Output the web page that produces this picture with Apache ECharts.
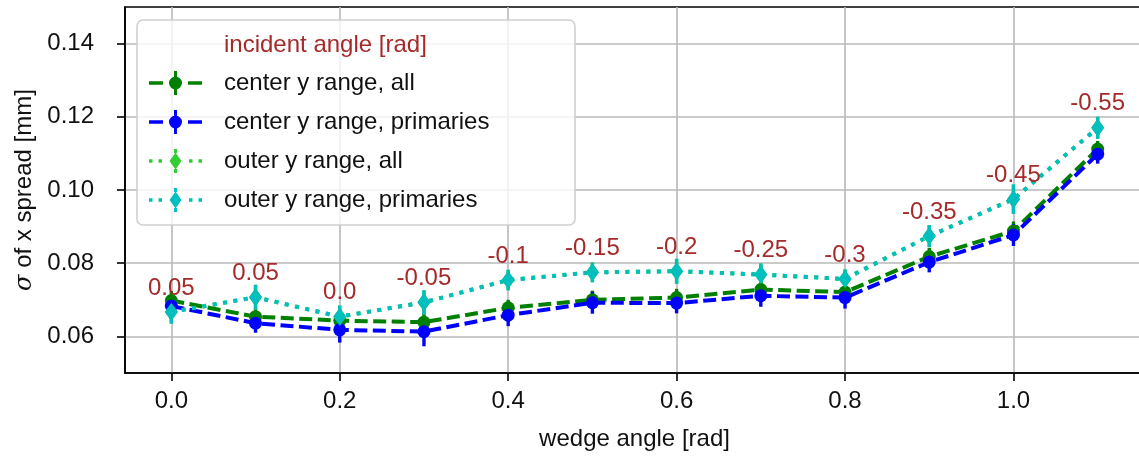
<!DOCTYPE html>
<html>
<head>
<meta charset="utf-8">
<script src="https://cdn.jsdelivr.net/npm/echarts@6/dist/echarts.min.js"></script>
<style>
  html, body { margin: 0; padding: 0; background: #fff; }
  #chart { width: 1139px; height: 459px; }
</style>
</head>
<body>
<div id="chart"></div>
<script>
// wedge angle [rad] on the x axis
var wedgeAngles = [0.0, 0.1, 0.2, 0.3, 0.4, 0.5, 0.6, 0.7, 0.8, 0.9, 1.0, 1.1];
// incident angle [rad] written above each point
var incidentAngles = ['0.05', '0.05', '0.0', '-0.05', '-0.1', '-0.15', '-0.2', '-0.25', '-0.3', '-0.35', '-0.45', '-0.55'];

// sigma of x spread [mm] and its error
var centerAll = [0.0698, 0.0654, 0.0643, 0.0639, 0.0678, 0.0700, 0.0706, 0.0728, 0.0721, 0.0818, 0.0888, 0.1112];
var centerAllErr = [0.0026, 0.0022, 0.0022, 0.0024, 0.0022, 0.0025, 0.0024, 0.0025, 0.0024, 0.0024, 0.0026, 0.0022];
var centerPrim = [0.0683, 0.0636, 0.0618, 0.0613, 0.0658, 0.0692, 0.0691, 0.0711, 0.0706, 0.0803, 0.0877, 0.1098];
var centerPrimErr = [0.0028, 0.0026, 0.0035, 0.0040, 0.0030, 0.0030, 0.0028, 0.0030, 0.0030, 0.0028, 0.0030, 0.0026];
var outerAll = [0.0667, 0.0707, 0.0654, 0.0693, 0.0754, 0.0775, 0.0778, 0.0769, 0.0757, 0.0874, 0.0975, 0.1170];
var outerAllErr = [0.0032, 0.0034, 0.0030, 0.0033, 0.0028, 0.0027, 0.0034, 0.0030, 0.0026, 0.0030, 0.0040, 0.0030];
var outerPrim = [0.0667, 0.0707, 0.0654, 0.0693, 0.0754, 0.0775, 0.0778, 0.0769, 0.0757, 0.0874, 0.0975, 0.1170];
var outerPrimErr = [0.0032, 0.0034, 0.0030, 0.0033, 0.0028, 0.0027, 0.0034, 0.0030, 0.0026, 0.0030, 0.0040, 0.0030];

var xTicks = [0.0, 0.2, 0.4, 0.6, 0.8, 1.0];
var yTicks = [0.06, 0.08, 0.10, 0.12, 0.14];

var FONT = 'Liberation Sans';
var gridColor = '#b8b8b8';

// legend handles: dashes/dots + marker + error bar, in a 53x24 box
var dashIcon = 'path://M0 10.25H14V13.75H0Z M39 10.25H53V13.75H39Z M25 0H28V6H25Z M25 18H28V24H25Z ' +
  'M20 12A6.5 6.5 0 1 1 33 12A6.5 6.5 0 1 1 20 12Z';
var dotIcon = 'path://M0 10.25H3.5V13.75H0Z M9.5 10.25H13V13.75H9.5Z M40 10.25H43.5V13.75H40Z M49.5 10.25H53V13.75H49.5Z ' +
  'M25 0H28V4H25Z M25 20H28V24H25Z M26.5 3.5L32.5 12L26.5 20.5L20.5 12Z';

function errSeries(name, vals, errs, color) {
  return {
    name: name + ' (err)',
    type: 'custom',
    data: wedgeAngles.map(function (x, i) { return [x, vals[i] - errs[i], vals[i] + errs[i]]; }),
    encode: { x: 0, y: [1, 2] },
    itemStyle: { color: color },
    renderItem: function (params, api) {
      var a = api.coord([api.value(0), api.value(1)]);
      var b = api.coord([api.value(0), api.value(2)]);
      return {
        type: 'line',
        shape: { x1: a[0], y1: a[1], x2: b[0], y2: b[1] },
        style: { stroke: color, lineWidth: 3.4 }
      };
    },
    silent: true
  };
}

function lineSeries(name, vals, color, symbol, size, dash) {
  return {
    name: name,
    type: 'line',
    data: wedgeAngles.map(function (x, i) { return [x, vals[i]]; }),
    symbol: symbol,
    symbolSize: size,
    showSymbol: true,
    itemStyle: { color: color },
    lineStyle: { color: color, width: 4, type: dash }
  };
}

var chart = echarts.init(document.getElementById('chart'));

var cyanLine = lineSeries('outer y range, primaries', outerPrim, '#00bfbf', 'diamond', [13, 18], [4, 6.5]);
cyanLine.label = {
  show: true,
  position: 'top',
  distance: 3,
  formatter: function (p) { return incidentAngles[p.dataIndex]; },
  color: '#a52a2a',
  fontSize: 24,
  fontFamily: FONT
};

var option = {
  animation: false,
  textStyle: { fontFamily: FONT },
  grid: {
    left: 125, top: 7, right: -5, bottom: 86,
    outerBoundsMode: 'none',
    containLabel: false,
    show: true, borderColor: '#000', borderWidth: 1.6, backgroundColor: 'transparent'
  },
  xAxis: {
    type: 'value',
    min: -0.055, max: 1.155,
    splitNumber: 5,
    name: 'wedge angle [rad]',
    nameLocation: 'middle',
    nameGap: 54,
    nameTextStyle: { fontSize: 24, color: '#111', fontFamily: FONT },
    axisLine: { show: true, onZero: false, lineStyle: { color: '#000', width: 1.6 } },
    axisTick: { show: true, length: 8, customValues: xTicks, lineStyle: { color: '#000', width: 1.6 } },
    axisLabel: {
      customValues: xTicks, fontSize: 24, color: '#111', margin: 16,
      formatter: function (v) { return v.toFixed(1); }
    },
    splitLine: { show: true, lineStyle: { color: gridColor, width: 1.6 } }
  },
  yAxis: {
    type: 'value',
    min: 0.05, max: 0.15,
    splitNumber: 5,
    name: '{i|σ} of x spread [mm]',
    nameLocation: 'middle',
    nameGap: 87,
    nameTextStyle: {
      fontSize: 24, color: '#111', fontFamily: FONT,
      rich: { i: { fontSize: 24, fontStyle: 'italic', fontFamily: 'DejaVu Serif', color: '#111' } }
    },
    axisLine: { show: true, onZero: false, lineStyle: { color: '#000', width: 1.6 } },
    axisTick: { show: true, length: 8, customValues: yTicks, lineStyle: { color: '#000', width: 1.6 } },
    axisLabel: {
      customValues: yTicks, fontSize: 24, color: '#111', margin: 31,
      formatter: function (v) { return v.toFixed(2); }
    },
    splitLine: { show: true, lineStyle: { color: gridColor, width: 1.6 } }
  },
  legend: {
    data: [
      { name: 'center y range, all', icon: dashIcon },
      { name: 'center y range, primaries', icon: dashIcon },
      { name: 'outer y range, all', icon: dotIcon },
      { name: 'outer y range, primaries', icon: dotIcon }
    ],
    orient: 'vertical',
    left: 149, top: 70,
    padding: 0,
    itemWidth: 53, itemHeight: 24,
    itemGap: 13,
    z: 20,
    itemStyle: { borderWidth: 0 },
    textStyle: { fontSize: 24, color: '#111', fontFamily: FONT, lineHeight: 26, padding: [0, 0, 0, 17] }
  },
  graphic: [
    {
      type: 'rect', z: 10,
      shape: { x: 137, y: 20, width: 438, height: 205, r: 6 },
      style: { fill: 'rgba(255,255,255,0.8)', stroke: '#d0d0d0', lineWidth: 1.6 }
    },
    {
      type: 'text', z: 11, x: 224, y: 45,
      style: { text: 'incident angle [rad]', fill: '#a52a2a', fontSize: 24, fontFamily: FONT, verticalAlign: 'middle' }
    }
  ],
  series: [
    errSeries('center y range, all', centerAll, centerAllErr, '#008000'),
    lineSeries('center y range, all', centerAll, '#008000', 'circle', 13, [13, 5.5]),
    errSeries('center y range, primaries', centerPrim, centerPrimErr, '#0000ff'),
    lineSeries('center y range, primaries', centerPrim, '#0000ff', 'circle', 13, [13, 5.5]),
    errSeries('outer y range, all', outerAll, outerAllErr, '#32cd32'),
    lineSeries('outer y range, all', outerAll, '#32cd32', 'diamond', [13, 18], [4, 6.5]),
    errSeries('outer y range, primaries', outerPrim, outerPrimErr, '#00bfbf'),
    cyanLine
  ]
};

chart.setOption(option);
</script>
</body>
</html>
